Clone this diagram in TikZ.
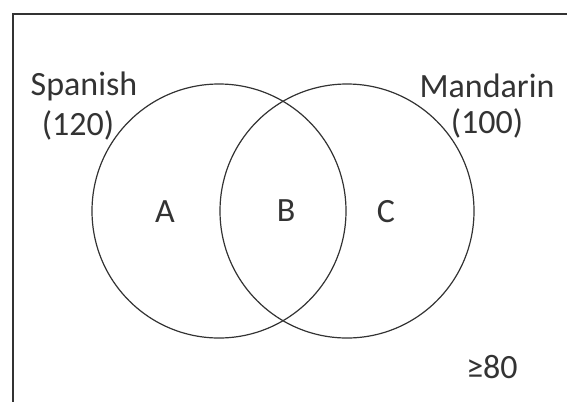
\documentclass[tikz,border=0pt]{standalone}
\usepackage{fontspec}
\setmainfont{Carlito}
\usepackage{xcolor}
\definecolor{vennInk}{HTML}{333333}
\newcommand{\vennText}[1]{\fontsize{34}{39}\selectfont #1}
\begin{document}
\begin{tikzpicture}[x=1pt,y=-1pt]
\useasboundingbox (0,0) rectangle (567,402);
\tikzset{vennLabel/.style={anchor=base, inner sep=0pt, text=vennInk}}
\draw[line width=1.6pt, vennInk] (567,14) -- (13,14) -- (13,402);
\draw[line width=1.2pt, vennInk] (219,211) circle (127);
\draw[line width=1.2pt, vennInk] (347,211) circle (127);
\node[vennLabel] (spanish) at (84,95) {\vennText{Spanish}};
\node[vennLabel] (spanishN) at (78,135) {\vennText{(120)}};
\node[vennLabel] (mandarin) at (487,97) {\vennText{Mandarin}};
\node[vennLabel] (mandarinN) at (487,133) {\vennText{(100)}};
\node[vennLabel] (regA) at (165,222) {\vennText{A}};
\node[vennLabel] (regB) at (286,221) {\vennText{B}};
\node[vennLabel] (regC) at (386,222) {\vennText{C}};
\node[vennLabel] (rest) at (492,378) {\vennText{≥80}};
\end{tikzpicture}
\end{document}
